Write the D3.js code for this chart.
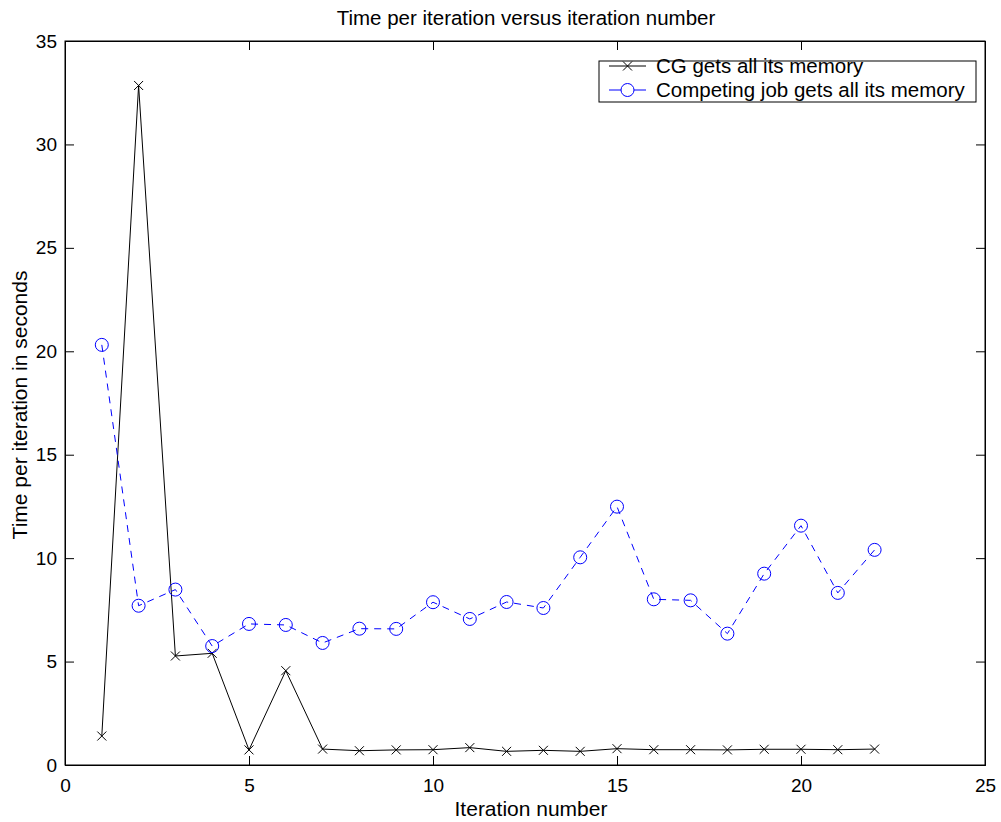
<!DOCTYPE html>
<html>
<head>
<meta charset="utf-8">
<script src="https://d3js.org/d3.v7.min.js"></script>
<style>
  body { margin: 0; background: #fff; }
  text { font-family: "Liberation Sans", Arial, sans-serif; }
</style>
</head>
<body>
<svg id="chart"></svg>
<script>
  // data
  var iterations = d3.range(1, 23)
  var cgMemory = [1.40, 32.85, 5.27, 5.40, 0.73, 4.56, 0.77, 0.69, 0.73, 0.74, 0.84,
                  0.66, 0.71, 0.66, 0.79, 0.74, 0.74, 0.73, 0.76, 0.76, 0.74, 0.77]
  var competingMemory = [20.31, 7.70, 8.48, 5.75, 6.82, 6.77, 5.90, 6.59, 6.58, 7.87, 7.06,
                         7.88, 7.59, 10.04, 12.49, 8.01, 7.96, 6.35, 9.25, 11.57, 8.32, 10.40]
  var xTicks = [0, 5, 10, 15, 20, 25]
  var yTicks = [0, 5, 10, 15, 20, 25, 30, 35]
  var seriesNames = ['CG gets all its memory', 'Competing job gets all its memory']

  var W = 1001, H = 822
  // plot box (note: "top" is reserved on window, so use other names)
  var pL = 65, pR = 985, pT = 41, pB = 765

  var svg = d3.select('#chart').attr('width', W).attr('height', H)

  var x = d3.scaleLinear().domain([0, 25]).range([pL, pR])
  var y = d3.scaleLinear().domain([0, 35]).range([pB, pT])

  // axes with inward ticks, mirrored on top/right
  var tickLen = 9
  var fs = 19
  svg.append('g').attr('transform', 'translate(0,' + pB + ')')
      .call(d3.axisBottom(x).tickValues(xTicks).tickSize(-tickLen).tickPadding(14))
  svg.append('g').attr('transform', 'translate(0,' + pT + ')')
      .call(d3.axisTop(x).tickValues(xTicks).tickSize(-tickLen).tickFormat(''))
  svg.append('g').attr('transform', 'translate(' + pL + ',0)')
      .call(d3.axisLeft(y).tickValues(yTicks).tickSize(-tickLen).tickPadding(8))
  svg.append('g').attr('transform', 'translate(' + pR + ',0)')
      .call(d3.axisRight(y).tickValues(yTicks).tickSize(-tickLen).tickFormat(''))

  svg.selectAll('.domain').attr('stroke', '#000').attr('stroke-width', 1)
  svg.selectAll('.tick line').attr('stroke', '#000')
  svg.selectAll('.tick text').attr('font-size', fs).attr('fill', '#000')
      .style('font-family', '"Liberation Sans", Arial, sans-serif')
  svg.append('rect').attr('x', pL).attr('y', pT).attr('width', pR - pL).attr('height', pB - pT)
      .attr('fill', 'none').attr('stroke', '#000').attr('stroke-width', 1)

  var line = d3.line().x(function (d) { return x(d[0]) }).y(function (d) { return y(d[1]) })
  var cgPts = iterations.map(function (d, i) { return [d, cgMemory[i]] })
  var compPts = iterations.map(function (d, i) { return [d, competingMemory[i]] })

  svg.append('path').datum(cgPts).attr('d', line)
      .attr('fill', 'none').attr('stroke', '#000').attr('stroke-width', 1)
  svg.append('path').datum(compPts).attr('d', line)
      .attr('fill', 'none').attr('stroke', '#0000ff').attr('stroke-width', 1)
      .attr('stroke-dasharray', '7,6')

  var m = 4.5
  function xMark(g, cx, cy) {
    g.append('path').attr('d', 'M' + (cx - m) + ',' + (cy - m) + 'L' + (cx + m) + ',' + (cy + m) +
        'M' + (cx - m) + ',' + (cy + m) + 'L' + (cx + m) + ',' + (cy - m))
      .attr('stroke', '#000').attr('stroke-width', 1).attr('fill', 'none')
  }
  var cgG = svg.append('g')
  cgPts.forEach(function (p) { xMark(cgG, x(p[0]), y(p[1])) })

  svg.append('g').selectAll('circle').data(compPts).enter().append('circle')
      .attr('cx', function (d) { return x(d[0]) })
      .attr('cy', function (d) { return y(d[1]) })
      .attr('r', 6.5)
      .attr('fill', 'none').attr('stroke', '#0000ff').attr('stroke-width', 1)

  // legend
  var lg = svg.append('g')
  lg.append('rect').attr('x', 599).attr('y', 61).attr('width', 377).attr('height', 41)
      .attr('fill', '#fff').attr('stroke', '#000').attr('stroke-width', 1)
  var rows = [66, 90]
  lg.append('line').attr('x1', 609).attr('x2', 646).attr('y1', rows[0]).attr('y2', rows[0])
      .attr('stroke', '#000')
  xMark(lg, 627.5, rows[0])
  lg.append('line').attr('x1', 609).attr('x2', 646).attr('y1', rows[1]).attr('y2', rows[1])
      .attr('stroke', '#0000ff')
  lg.append('circle').attr('cx', 627.5).attr('cy', rows[1]).attr('r', 6.5)
      .attr('fill', '#fff').attr('stroke', '#0000ff')
  lg.selectAll('text.lab').data(seriesNames).enter().append('text')
      .attr('x', 656).attr('y', function (d, i) { return rows[i] + 7 })
      .attr('font-size', 20.5).text(function (d) { return d })

  // titles
  svg.append('text').attr('x', 526).attr('y', 25).attr('text-anchor', 'middle')
      .attr('font-size', 20.5).text('Time per iteration versus iteration number')
  svg.append('text').attr('x', 531).attr('y', 816).attr('text-anchor', 'middle')
      .attr('font-size', 21).text('Iteration number')
  svg.append('text').attr('transform', 'translate(27,405) rotate(-90)')
      .attr('text-anchor', 'middle').attr('font-size', 21).text('Time per iteration in seconds')
</script>
</body>
</html>
